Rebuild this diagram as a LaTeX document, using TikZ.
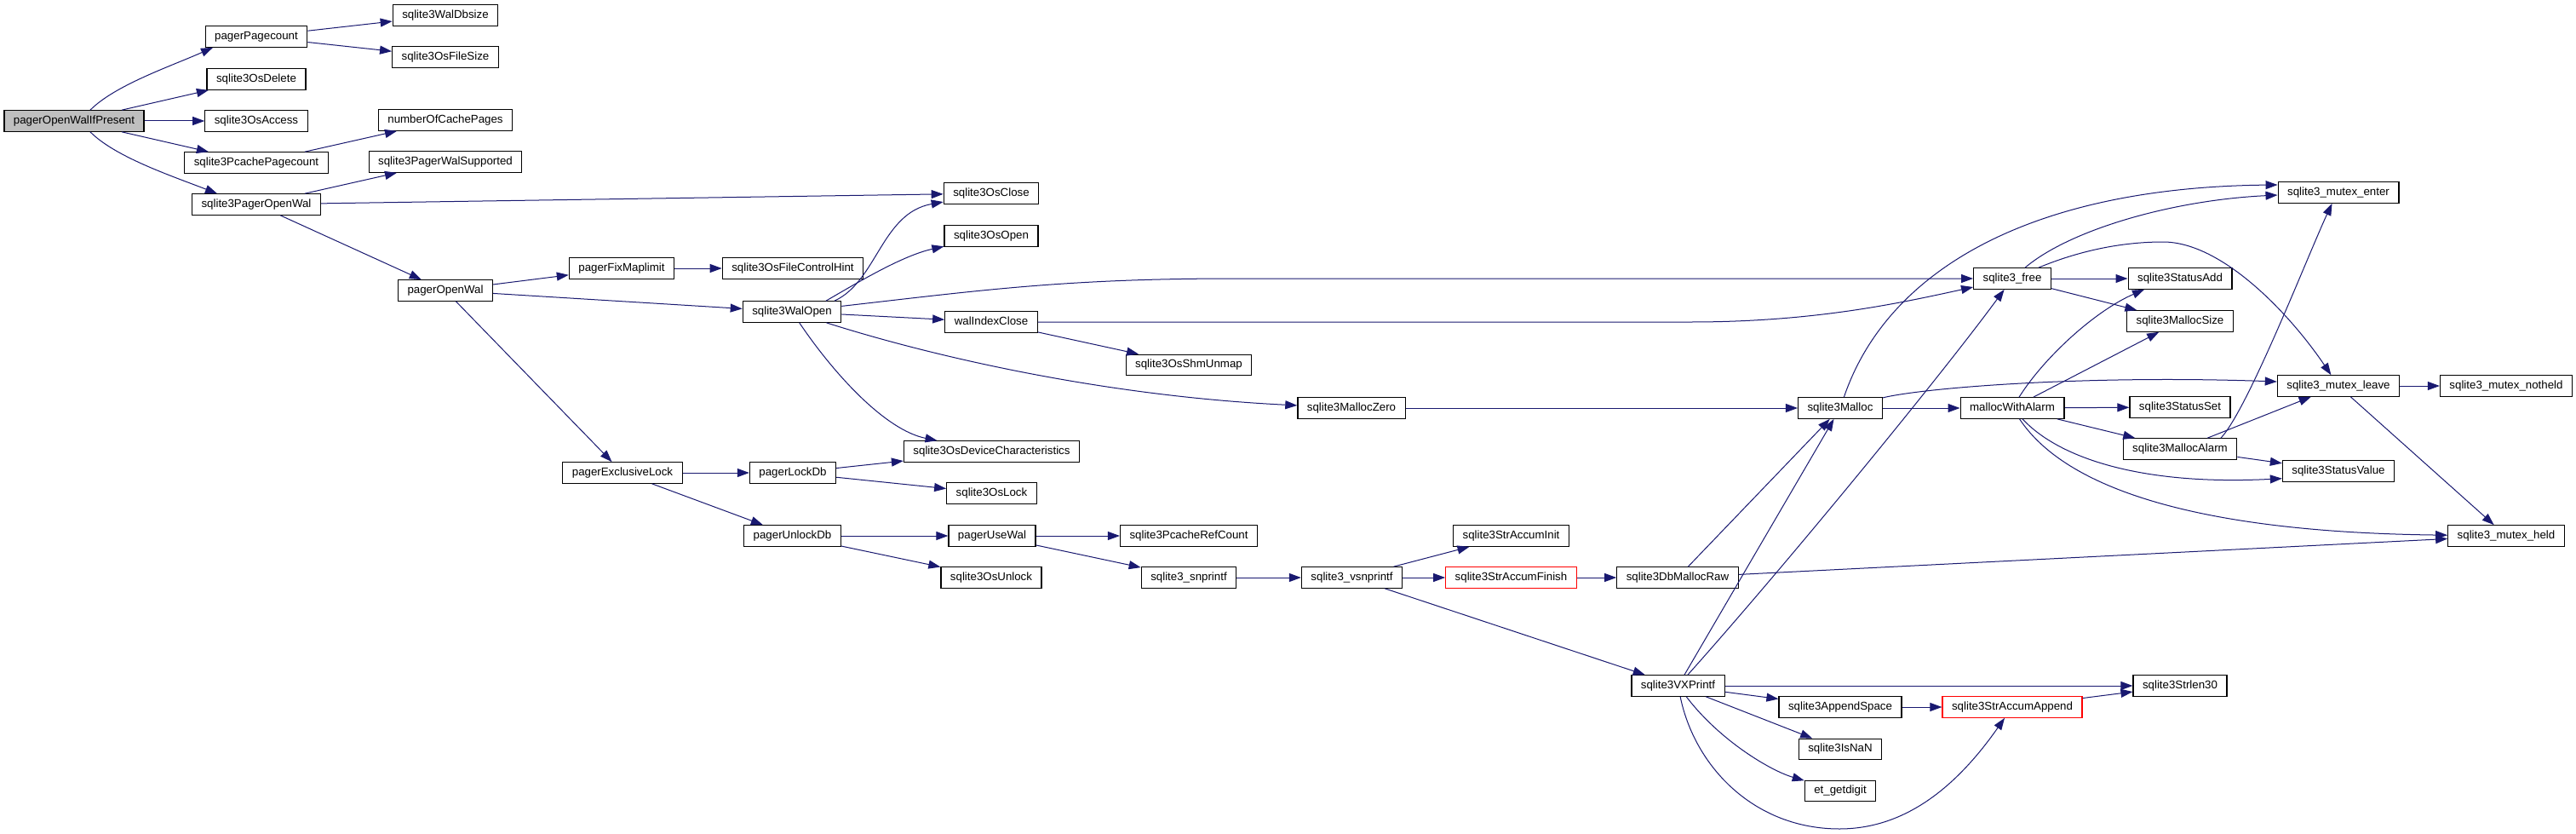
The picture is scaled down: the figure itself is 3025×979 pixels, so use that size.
\documentclass[tikz,border=0pt]{standalone}
\usepackage{fontspec}
\setmainfont{Liberation Sans}
\usetikzlibrary{arrows.meta}
\definecolor{edgeblue}{HTML}{191970}
\definecolor{rootgray}{HTML}{BFBFBF}
\definecolor{truncred}{HTML}{FF0000}
\begin{document}
\begin{tikzpicture}[x=1pt,y=-1pt,
  fn/.style={draw=black, line width=1.2pt, fill=white, rectangle, minimum height=24.5pt,
    inner xsep=11pt, inner ysep=0pt, font=\fontsize{13.3}{15}\selectfont,
    text height=9.8pt, text depth=2.9pt},
  rootfn/.style={fn, fill=rootgray},
  redfn/.style={fn, draw=truncred},
  e/.style={draw=edgeblue, line width=1pt, -{Triangle[length=14pt,width=10pt]}}]
\useasboundingbox (0,0) rectangle (3025,979);
\fill[white] (0,0) rectangle (3025,979);

% nodes
\node[rootfn] (root) at (87,142) {pagerOpenWalIfPresent};
\node[fn] (ppc) at (301,43) {pagerPagecount};
\node[fn] (osdel) at (301,93) {sqlite3OsDelete};
\node[fn] (osacc) at (301,142) {sqlite3OsAccess};
\node[fn] (pcpc) at (301,191) {sqlite3PcachePagecount};
\node[fn] (pow) at (301,240) {sqlite3PagerOpenWal};
\node[fn] (waldb) at (523,18) {sqlite3WalDbsize};
\node[fn] (osfs) at (523,67) {sqlite3OsFileSize};
\node[fn] (ncp) at (523,141) {numberOfCachePages};
\node[fn] (pws) at (523,190) {sqlite3PagerWalSupported};
\node[fn] (pgow) at (523,341) {pagerOpenWal};
\node[fn] (pfm) at (730,315) {pagerFixMaplimit};
\node[fn] (pel) at (731,555) {pagerExclusiveLock};
\node[fn] (osfch) at (931,315) {sqlite3OsFileControlHint};
\node[fn] (walopen) at (930,366) {sqlite3WalOpen};
\node[fn] (lockdb) at (931,555) {pagerLockDb};
\node[fn] (unlockdb) at (930.5,629) {pagerUnlockDb};
\node[fn] (osclose) at (1164,227) {sqlite3OsClose};
\node[fn] (osopen) at (1164,277) {sqlite3OsOpen};
\node[fn] (wic) at (1164,378) {walIndexClose};
\node[fn] (devchar) at (1164.5,530) {sqlite3OsDeviceCharacteristics};
\node[fn] (oslock) at (1164.5,579) {sqlite3OsLock};
\node[fn] (usewal) at (1165,629) {pagerUseWal};
\node[fn] (osunlock) at (1164,678) {sqlite3OsUnlock};
\node[fn] (shm) at (1396,428.5) {sqlite3OsShmUnmap};
\node[fn] (refcnt) at (1396,629) {sqlite3PcacheRefCount};
\node[fn] (snp) at (1396,678) {sqlite3\_snprintf};
\node[fn] (mzero) at (1587,479) {sqlite3MallocZero};
\node[fn] (vsnp) at (1587.5,678) {sqlite3\_vsnprintf};
\node[fn] (sainit) at (1774.5,629) {sqlite3StrAccumInit};
\node[redfn] (safin) at (1774.5,678) {sqlite3StrAccumFinish};
\node[fn] (dbmr) at (1970,678) {sqlite3DbMallocRaw};
\node[fn] (vx) at (1970.5,805) {sqlite3VXPrintf};
\node[fn] (malloc) at (2161,479) {sqlite3Malloc};
\node[fn] (appsp) at (2161,830) {sqlite3AppendSpace};
\node[fn] (isnan) at (2161,879.5) {sqlite3IsNaN};
\node[fn] (etg) at (2161,928.5) {et\_getdigit};
\node[fn] (free) at (2363,327) {sqlite3\_free};
\node[fn] (mwa) at (2363,479) {mallocWithAlarm};
\node[redfn] (saapp) at (2363,830) {sqlite3StrAccumAppend};
\node[fn] (stadd) at (2560,327) {sqlite3StatusAdd};
\node[fn] (msize) at (2560,377) {sqlite3MallocSize};
\node[fn] (stset) at (2560,478) {sqlite3StatusSet};
\node[fn] (malarm) at (2560,527) {sqlite3MallocAlarm};
\node[fn] (strlen) at (2560,805) {sqlite3Strlen30};
\node[fn] (menter) at (2746,226) {sqlite3\_mutex\_enter};
\node[fn] (mleave) at (2746,453) {sqlite3\_mutex\_leave};
\node[fn] (stval) at (2746,553) {sqlite3StatusValue};
\node[fn] (mheld) at (2943,629) {sqlite3\_mutex\_held};
\node[fn] (mnoth) at (2943,453) {sqlite3\_mutex\_notheld};

% edges
\draw[e] ([xshift=19pt]root.north) .. controls (135,100) and (200,78) .. ([xshift=-51pt]ppc.south);
\draw[e] (root) -- (osdel);
\draw[e] (root) -- (osacc);
\draw[e] (root) -- (pcpc);
\draw[e] ([xshift=19pt]root.south) .. controls (135,184) and (200,206) .. ([xshift=-46pt]pow.north);
\draw[e] (ppc) -- (waldb);
\draw[e] (ppc) -- (osfs);
\draw[e] (pcpc) -- (ncp);
\draw[e] (pow) -- (pws);
\draw[e] (pow) -- (osclose);
\draw[e] (pow) -- (pgow);
\draw[e] (pgow) -- (pfm);
\draw[e] (pgow) -- (walopen);
\draw[e] (pgow) -- (pel);
\draw[e] (pfm) -- (osfch);
\draw[e] ([xshift=50pt]walopen.north) .. controls (1030,330) and (1035,250) .. (osclose);
\draw[e] ([xshift=40pt]walopen.north) .. controls (1010,330) and (1060,300) .. (osopen);
\draw[e] (walopen) .. controls (1150,341) and (1250,327) .. (1450,327) -- (free);
\draw[e] (walopen) -- (wic);
\draw[e] (walopen) .. controls (1100,420) and (1300,465) .. (mzero);
\draw[e] (walopen) .. controls (980,440) and (1040,505) .. (devchar);
\draw[e] (wic) -- (shm);
\draw[e] (wic) -- (1985,378) .. controls (2130,378) and (2230,356) .. (free);
\draw[e] (pel) -- (lockdb);
\draw[e] (pel) -- (unlockdb);
\draw[e] (lockdb) -- (devchar);
\draw[e] (lockdb) -- (oslock);
\draw[e] (unlockdb) -- (usewal);
\draw[e] (unlockdb) -- (osunlock);
\draw[e] (usewal) -- (refcnt);
\draw[e] (usewal) -- (snp);
\draw[e] (snp) -- (vsnp);
\draw[e] (vsnp) -- (sainit);
\draw[e] (vsnp) -- (safin);
\draw[e] (vsnp) -- (vx);
\draw[e] (safin) -- (dbmr);
\draw[e] (dbmr) -- (malloc);
\draw[e] (dbmr) -- (mheld);
\draw[e] (mzero) -- (malloc);
\draw[e] (vx) -- (malloc);
\draw[e] (vx) .. controls (2100,660) and (2280,440) .. (free);
\draw[e] (vx) -- (strlen);
\draw[e] (vx) -- (appsp);
\draw[e] (vx) -- (isnan);
\draw[e] (vx) .. controls (2020,870) and (2080,905) .. (etg);
\draw[e] (vx) .. controls (1990,900) and (2060,973) .. (2160,973) .. controls (2240,973) and (2300,920) .. (saapp);
\draw[e] (appsp) -- (saapp);
\draw[e] (saapp) -- (strlen);
\draw[e] (malloc) .. controls (2215,320) and (2380,220) .. ([yshift=9pt]menter.west);
\draw[e] (malloc) .. controls (2260,455) and (2450,440) .. ([yshift=5pt]mleave.west);
\draw[e] (malloc) -- (mwa);
\draw[e] (free) .. controls (2430,270) and (2550,235) .. ([yshift=-3pt]menter.west);
\draw[e] (free) .. controls (2440,295) and (2490,284) .. (2540,284) .. controls (2610,284) and (2690,370) .. (mleave);
\draw[e] (free) -- (stadd);
\draw[e] (free) -- (msize);
\draw[e] (mwa) .. controls (2400,420) and (2460,365) .. ([xshift=-42pt]stadd.south);
\draw[e] (mwa) -- (msize);
\draw[e] (mwa) -- (stset);
\draw[e] (mwa) -- (malarm);
\draw[e] (mwa) .. controls (2420,540) and (2520,570) .. ([yshift=-8.7pt]stval.west);
\draw[e] (mwa) .. controls (2430,580) and (2600,625) .. (mheld);
\draw[e] ([xshift=48pt]malarm.north) .. controls (2640,480) and (2710,300) .. ([xshift=-7.5pt]menter.south);
\draw[e] (malarm) -- (mleave);
\draw[e] (malarm) -- (stval);
\draw[e] (mleave) -- (mnoth);
\draw[e] (mleave) -- (mheld);
\end{tikzpicture}
\end{document}
